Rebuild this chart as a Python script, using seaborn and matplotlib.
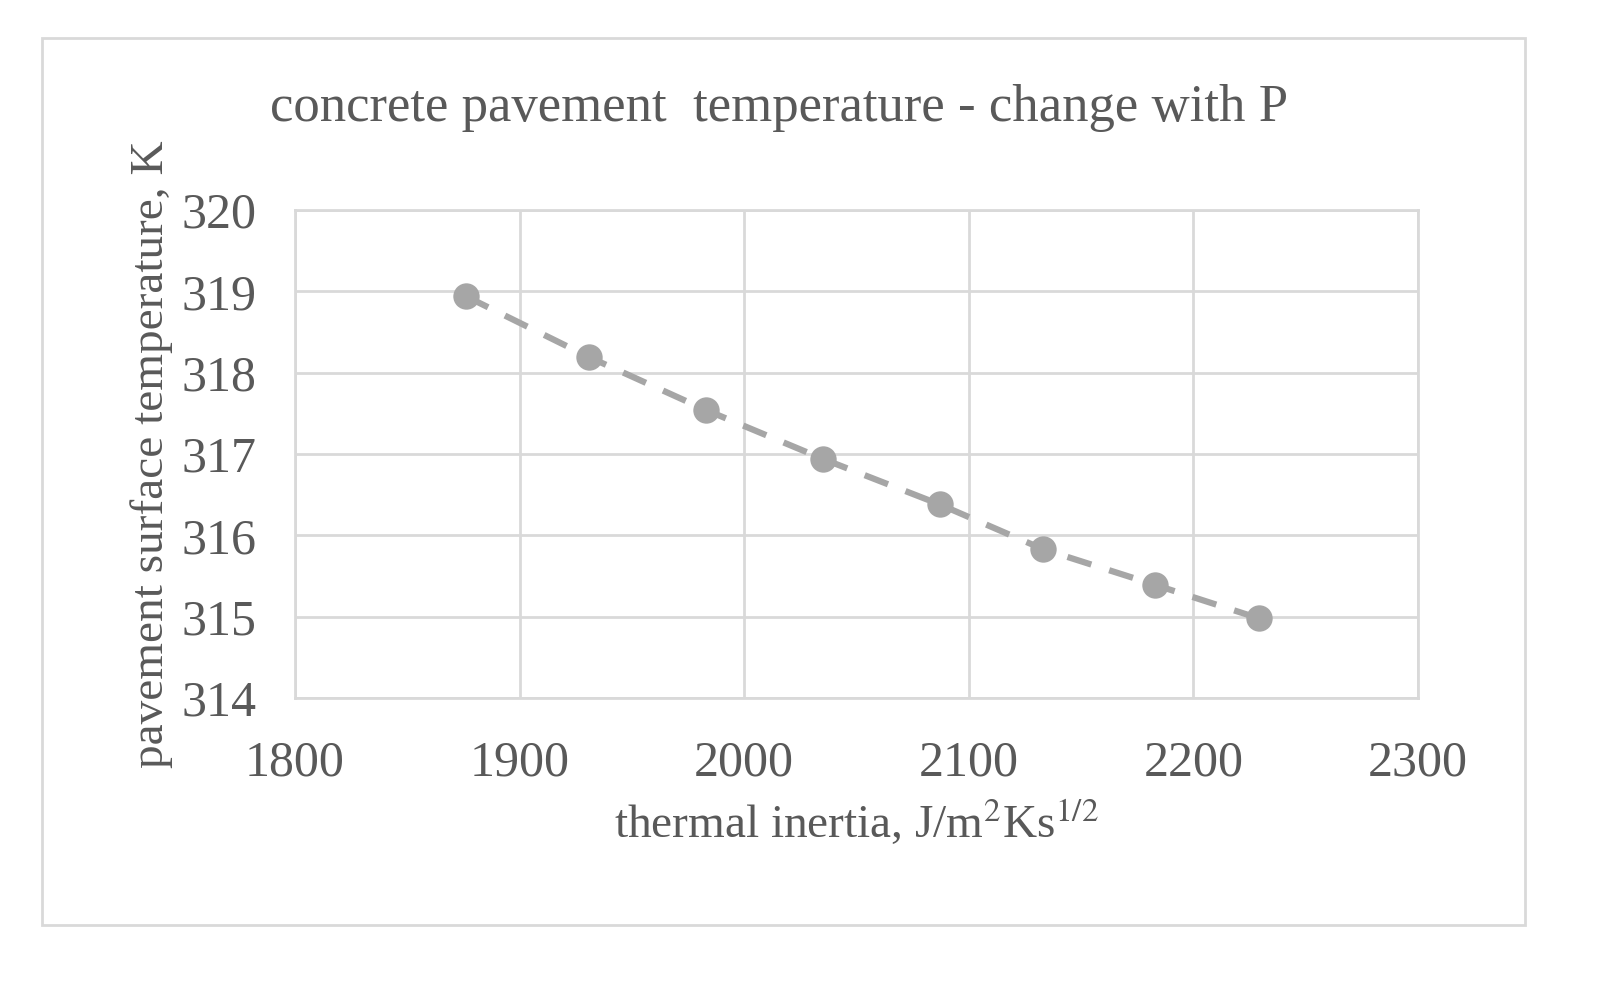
import matplotlib
matplotlib.use("Agg")
import matplotlib.pyplot as plt
import seaborn as sns
import pandas as pd
from matplotlib.patches import Rectangle

inertia = [1876, 1931, 1983, 2035, 2087, 2133, 2183, 2229]
temperature = [318.94, 318.19, 317.54, 316.94, 316.38, 315.83, 315.39, 314.98]
x_ticks = [1800, 1900, 2000, 2100, 2200, 2300]
y_ticks = [314, 315, 316, 317, 318, 319, 320]

sns.set_style("white")
plt.rcParams['font.family'] = ['Liberation Serif', 'DejaVu Serif']
plt.rcParams['mathtext.fontset'] = 'stix'
grey = "#595959"

fig = plt.figure(figsize=(15.99, 9.84), dpi=100)
fig.patches.append(Rectangle((42/1599, 1-925/984), (1525-42)/1599, (925-38)/984,
                             transform=fig.transFigure, fill=False, edgecolor="#d9d9d9", linewidth=2))
ax = fig.add_axes([0.1845, 0.2907, 0.7023, 0.4959])
df = pd.DataFrame({"x": inertia, "y": temperature})
sns.lineplot(data=df, x="x", y="y", ax=ax, color="#a6a6a6", linewidth=4.5,
             linestyle=(0, (4, 3)), marker="o", markersize=19, markeredgewidth=0)
ax.set_xlim(1800, 2300)
ax.set_ylim(314, 320)
ax.set_xticks(x_ticks)
ax.set_yticks(y_ticks)
ax.grid(True, color="#d9d9d9", linewidth=2)
for s in ax.spines.values():
    s.set_color("#d9d9d9"); s.set_linewidth(2)
ax.tick_params(axis="both", labelsize=36, colors=grey, length=0)
ax.tick_params(axis="x", pad=30)
ax.tick_params(axis="y", pad=28)
ax.set_xlabel("thermal inertia, J/m$^2$Ks$^{1/2}$", fontsize=34, color=grey, labelpad=8)
ax.set_ylabel("pavement surface temperature, K", fontsize=34, color=grey, labelpad=6)
fig.text(0.487, 0.89, "concrete pavement  temperature - change with P", fontsize=38,
         color=grey, ha="center", va="center")
fig.savefig("out.png", dpi=100)
